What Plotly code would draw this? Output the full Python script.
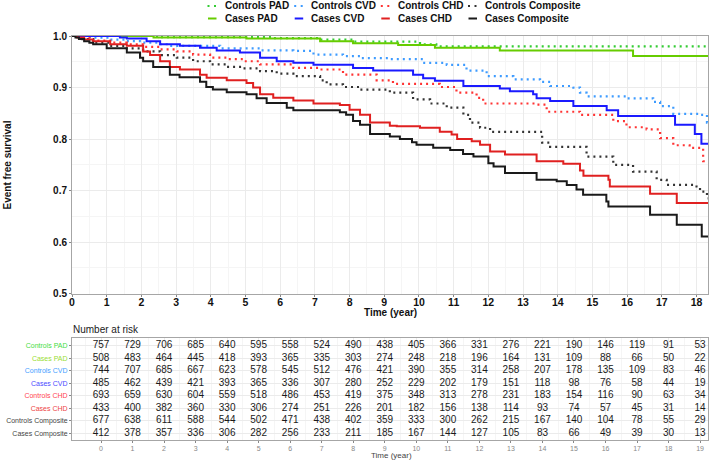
import plotly.graph_objects as go

# ---------------- data ----------------
groups = ["Controls PAD", "Cases PAD", "Controls CVD", "Cases CVD",
          "Controls CHD", "Cases CHD", "Controls Composite", "Cases Composite"]

controls_pad_t = [0, 2.5, 5.8, 7.15, 8.1, 10.03, 10.5, 18.4]
controls_pad_v = [1.0, 0.998, 0.996, 0.993, 0.989, 0.984, 0.980, 0.980]

cases_pad_t = [0, 2.35, 5.03, 7.15, 8.1, 9.4, 10.46, 12.33, 16.17, 18.4]
cases_pad_v = [1.0, 0.997, 0.995, 0.990, 0.986, 0.9825, 0.977, 0.972, 0.961, 0.961]

controls_cvd_t = [0, 0.3, 0.61, 1.1, 1.58, 2.05, 2.54, 2.82, 4.27, 5.42, 6.38, 6.96, 7.81, 8.3,
                  9.16, 10.12, 10.8, 11.37, 11.95, 12.72, 13.49, 13.78, 14.45, 14.64, 14.83,
                  15.98, 16.75, 16.95, 17.33, 18.1, 18.3, 18.4]
controls_cvd_v = [1.0, 0.998, 0.997, 0.993, 0.990, 0.987, 0.984, 0.981, 0.976, 0.972, 0.971,
                  0.964, 0.961, 0.957, 0.955, 0.948, 0.944, 0.933, 0.922, 0.916, 0.911, 0.903,
                  0.900, 0.890, 0.883, 0.879, 0.872, 0.864, 0.849, 0.847, 0.832, 0.832]

cases_cvd_t = [0, 1.38, 1.58, 2.15, 2.54, 3.11, 3.69, 4.17, 4.84, 5.42, 5.9, 6.38, 6.96, 8.1,
               8.68, 9.83, 10.12, 10.46, 11.28, 12.33, 12.62, 13.29, 13.39, 13.78, 14.45,
               15.41, 15.74, 17.38, 17.95, 18.14, 18.4]
cases_cvd_v = [1.0, 0.997, 0.995, 0.990, 0.984, 0.981, 0.977, 0.972, 0.968, 0.958, 0.951,
               0.948, 0.944, 0.938, 0.933, 0.925, 0.918, 0.913, 0.903, 0.898, 0.893, 0.887,
               0.879, 0.874, 0.864, 0.856, 0.845, 0.828, 0.810, 0.791, 0.791]

controls_chd_t = [0, 0.24, 0.61, 1.1, 1.58, 2.05, 2.54, 3.02, 3.49, 3.98, 4.46, 4.94, 5.42,
                  6.38, 7.15, 7.81, 8.78, 9.25, 10.6, 11.08, 11.66, 11.85, 13.39, 13.68, 14.64,
                  15.6, 15.98, 16.56, 16.95, 17.33, 17.8, 18.19, 18.4]
controls_chd_v = [1.0, 0.997, 0.991, 0.987, 0.984, 0.979, 0.974, 0.970, 0.964, 0.958, 0.955,
                  0.951, 0.945, 0.938, 0.935, 0.925, 0.914, 0.907, 0.901, 0.890, 0.880, 0.869,
                  0.867, 0.853, 0.847, 0.835, 0.823, 0.819, 0.802, 0.788, 0.783, 0.757, 0.757]

cases_chd_t = [0, 0.15, 0.35, 0.61, 1.1, 1.58, 2.05, 2.25, 2.54, 2.82, 3.11, 3.69, 3.88, 4.46,
               5.03, 5.22, 5.42, 5.8, 6.38, 6.96, 7.72, 8.0, 8.3, 8.59, 9.16, 9.36, 10.03,
               10.6, 10.94, 11.1, 11.52, 11.76, 12.05, 12.48, 13.39, 14.16, 14.64, 14.74,
               15.46, 15.5, 16.66, 17.43, 18.4]
cases_chd_v = [1.0, 0.997, 0.993, 0.990, 0.984, 0.981, 0.970, 0.963, 0.951, 0.940, 0.935,
               0.925, 0.919, 0.914, 0.909, 0.900, 0.887, 0.880, 0.875, 0.869, 0.866, 0.857,
               0.847, 0.832, 0.826, 0.825, 0.822, 0.814, 0.809, 0.800, 0.796, 0.789, 0.776,
               0.770, 0.757, 0.752, 0.739, 0.729, 0.721, 0.708, 0.694, 0.676, 0.676]

controls_comp_t = [0, 0.3, 0.61, 1.1, 1.58, 2.05, 2.54, 3.02, 3.49, 3.98, 4.46, 4.94, 5.42,
                   5.9, 6.38, 7.15, 7.34, 7.81, 8.3, 9.16, 9.83, 10.32, 10.8, 11.28, 11.47,
                   11.76, 12.05, 13.55, 13.78, 14.83, 15.6, 16.17, 16.85, 17.14, 18.0, 18.1,
                   18.3, 18.4]
controls_comp_v = [1.0, 0.994, 0.987, 0.981, 0.976, 0.970, 0.963, 0.958, 0.951, 0.945, 0.940,
                   0.937, 0.932, 0.927, 0.922, 0.914, 0.906, 0.901, 0.896, 0.890, 0.877,
                   0.869, 0.861, 0.847, 0.832, 0.822, 0.814, 0.793, 0.785, 0.766, 0.750,
                   0.737, 0.721, 0.711, 0.708, 0.698, 0.685, 0.685]

cases_comp_t = [0, 0.1, 0.2, 0.35, 0.5, 0.61, 1.0, 1.58, 1.96, 2.05, 2.34, 2.82, 3.1, 3.69,
                3.87, 4.06, 4.46, 5.03, 5.32, 5.61, 6.19, 6.38, 7.72, 7.9, 8.1, 8.3, 8.59,
                9.16, 9.45, 9.8, 9.93, 10.41, 10.9, 11.27, 11.57, 12.0, 12.15, 12.48, 13.39,
                13.97, 14.26, 14.54, 14.73, 15.4, 15.46, 16.66, 17.43, 18.15, 18.4]
cases_comp_v = [1.0, 0.997, 0.994, 0.990, 0.987, 0.984, 0.976, 0.968, 0.958, 0.951, 0.940,
                0.925, 0.920, 0.911, 0.901, 0.896, 0.891, 0.887, 0.879, 0.870, 0.861, 0.856,
                0.852, 0.847, 0.835, 0.828, 0.810, 0.805, 0.800, 0.794, 0.789, 0.783, 0.779,
                0.771, 0.766, 0.753, 0.747, 0.734, 0.721, 0.718, 0.711, 0.702, 0.692, 0.679,
                0.669, 0.653, 0.634, 0.611, 0.611]

risk_times = list(range(20))
risk_controls_pad = [757, 729, 706, 685, 640, 595, 558, 524, 490, 438, 405, 366, 331, 276, 221, 190, 146, 119, 91, 53]
risk_cases_pad = [508, 483, 464, 445, 418, 393, 365, 335, 303, 274, 248, 218, 196, 164, 131, 109, 88, 66, 50, 22]
risk_controls_cvd = [744, 707, 685, 667, 623, 578, 545, 512, 476, 421, 390, 355, 314, 258, 207, 178, 135, 109, 83, 46]
risk_cases_cvd = [485, 462, 439, 421, 393, 365, 336, 307, 280, 252, 229, 202, 179, 151, 118, 98, 76, 58, 44, 19]
risk_controls_chd = [693, 659, 630, 604, 559, 518, 486, 453, 419, 375, 348, 313, 278, 231, 183, 154, 116, 90, 63, 34]
risk_cases_chd = [433, 400, 382, 360, 330, 306, 274, 251, 226, 201, 182, 156, 138, 114, 93, 74, 57, 45, 31, 14]
risk_controls_comp = [677, 638, 611, 588, 544, 502, 471, 438, 402, 359, 333, 300, 262, 215, 167, 140, 104, 78, 55, 29]
risk_cases_comp = [412, 378, 357, 336, 306, 282, 256, 233, 211, 185, 167, 144, 127, 105, 83, 66, 49, 39, 30, 13]

# ---------------- styles ----------------
curves = [
    (controls_pad_t, controls_pad_v), (cases_pad_t, cases_pad_v),
    (controls_cvd_t, controls_cvd_v), (cases_cvd_t, cases_cvd_v),
    (controls_chd_t, controls_chd_v), (cases_chd_t, cases_chd_v),
    (controls_comp_t, controls_comp_v), (cases_comp_t, cases_comp_v),
]
risks = [risk_controls_pad, risk_cases_pad, risk_controls_cvd, risk_cases_cvd,
         risk_controls_chd, risk_cases_chd, risk_controls_comp, risk_cases_comp]
line_colors = ["#33CC33", "#66CC00", "#3D9BFF", "#1A1AFF",
               "#FF3333", "#E02020", "#333333", "#1A1A1A"]
label_colors = ["#44DD44", "#99DD33", "#44A0FF", "#4A4AFF",
                "#FF4450", "#EE4444", "#444444", "#444444"]
dotted = [True, False, True, False, True, False, True, False]

W, H = 709, 460
ML, MR, MT, MB = 72, 1, 36, 20
PW, PH = W - ML - MR, H - MT - MB
FONT = "Liberation Sans, Arial, sans-serif"


def px(x):
    return (x - ML) / PW


def py(y):
    return (H - MB - y) / PH


fig = go.Figure()

draw_order = [0, 2, 4, 6, 1, 3, 5, 7]
for i in draw_order:
    t, v = curves[i]
    fig.add_trace(go.Scatter(
        x=t, y=v, mode="lines", line_shape="hv", name=groups[i],
        line=dict(color=line_colors[i], width=2.2 if dotted[i] else 2,
                  dash="2px,4px" if dotted[i] else "solid"),
        showlegend=False, hoverinfo="skip", xaxis="x", yaxis="y"))

# risk table
for r, counts in enumerate(risks):
    fig.add_trace(go.Scatter(
        x=risk_times, y=[r] * len(risk_times), text=[str(c) for c in counts],
        mode="text", textposition="middle center",
        textfont=dict(family=FONT, size=10, color="#1a1a1a"),
        showlegend=False, hoverinfo="skip", xaxis="x2", yaxis="y2"))

grid = "#ebebeb"
minor_grid = "#f5f5f5"
border = "#a6a6a6"

fig.update_layout(
    width=W, height=H,
    margin=dict(l=ML, r=MR, t=MT, b=MB),
    paper_bgcolor="white", plot_bgcolor="white",
    font=dict(family=FONT, color="#1a1a1a"),
    xaxis=dict(domain=[0, 1], anchor="y", range=[0, 18.33],
               tickmode="array", tickvals=list(range(19)),
               ticks="outside", ticklen=2, tickcolor="#888",
               ticklabelstandoff=-3,
               tickfont=dict(size=10.5, weight="bold", color="#111"),
               showgrid=True, gridcolor=grid, gridwidth=1,
               minor=dict(dtick=0.5, showgrid=True, gridcolor=minor_grid, ticks=""),
               showline=True, mirror=True, linecolor=border, linewidth=1,
               zeroline=False),
    yaxis=dict(domain=[py(293.7), 1], anchor="x", range=[0.5, 1.0],
               tickmode="array", tickvals=[0.5, 0.6, 0.7, 0.8, 0.9, 1.0],
               ticktext=["0.5", "0.6", "0.7", "0.8", "0.9", "1.0"],
               ticks="outside", ticklen=2, tickcolor="#888",
               tickfont=dict(size=10, weight="bold", color="#111"),
               showgrid=True, gridcolor=grid,
               minor=dict(dtick=0.05, showgrid=True, gridcolor=minor_grid, ticks=""),
               showline=True, mirror=True, linecolor=border, linewidth=1,
               zeroline=False),
    xaxis2=dict(domain=[0, 1], anchor="y2", range=[-0.92, 19.25],
                tickmode="array", tickvals=risk_times,
                ticks="outside", ticklen=2, tickcolor="#888",
                tickfont=dict(size=7, color="#888"),
                showgrid=True, gridcolor=grid,
                minor=dict(dtick=0.5, showgrid=True, gridcolor=minor_grid, ticks=""),
                showline=True, mirror=True, linecolor=border, linewidth=1,
                zeroline=False),
    yaxis2=dict(domain=[0, py(338.3)], anchor="x2", range=[7.54, -0.59],
                tickmode="array", tickvals=list(range(8)),
                ticktext=['<span style="color:%s">%s</span>' % (c, g)
                          for c, g in zip(label_colors, groups)],
                ticks="outside", ticklen=2, tickcolor="#888",
                tickfont=dict(size=7),
                showgrid=True, gridcolor=grid,
                showline=True, mirror=True, linecolor=border, linewidth=1,
                zeroline=False),
)

ann = []
ann.append(dict(text="Event free survival", textangle=-90, xref="paper", yref="paper",
                x=px(7.5), y=py(165), xanchor="center", yanchor="middle", showarrow=False,
                font=dict(size=10, weight="bold", color="#111")))
ann.append(dict(text="Time (year)", xref="paper", yref="paper",
                x=px(390.5), y=py(312.5), xanchor="center", yanchor="middle", showarrow=False,
                font=dict(size=10, weight="bold", color="#111")))
ann.append(dict(text="Number at risk", xref="paper", yref="paper",
                x=px(71), y=py(329), xanchor="left", yanchor="middle", showarrow=False,
                font=dict(size=10, color="#1a1a1a")))
ann.append(dict(text="Time (year)", xref="paper", yref="paper",
                x=px(391), y=py(455.5), xanchor="center", yanchor="middle", showarrow=False,
                font=dict(size=8, color="#444")))

shapes = []
col_x = [224.0, 310.7, 397.3, 484.5]
row_y = [6.0, 18.5]
for i, g in enumerate(groups):
    col = i // 2
    row = i % 2
    tx = col_x[col]
    ty = row_y[row]
    ann.append(dict(text=g, xref="paper", yref="paper", x=px(tx - 1.5), y=py(ty),
                    xanchor="left", yanchor="middle", showarrow=False,
                    font=dict(size=10, weight="bold", color="#111")))
    if dotted[i]:
        shapes.append(dict(type="line", xref="paper", yref="paper",
                           x0=px(tx - 16.5), x1=px(tx - 8), y0=py(ty), y1=py(ty),
                           line=dict(color=line_colors[i], width=2.2, dash="2px,4.5px")))
    else:
        shapes.append(dict(type="line", xref="paper", yref="paper",
                           x0=px(tx - 16), x1=px(tx - 7.5), y0=py(ty), y1=py(ty),
                           line=dict(color=line_colors[i], width=2)))

fig.update_layout(annotations=ann, shapes=shapes)

fig.write_html("out.html", config={"displayModeBar": False},
               post_script="document.body.style.margin='0px';")
